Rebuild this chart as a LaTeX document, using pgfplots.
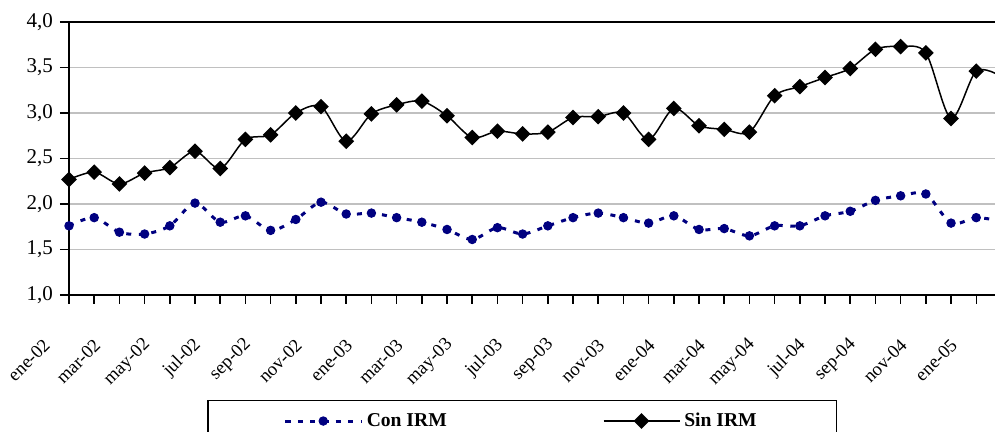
\documentclass[border=0pt]{standalone}
\usepackage{pgfplots}
\pgfplotsset{compat=1.18}
\usepackage{pgfplotstable}
\usepackage{fontspec}
\setmainfont{Liberation Serif}

\definecolor{irmnavy}{RGB}{0,0,128}
\definecolor{gridgray}{RGB}{192,192,192}

% month index (0 = ene-02), Con IRM, Sin IRM
\pgfplotstableread{
idx con  sin
0   1.76 2.27
1   1.85 2.35
2   1.69 2.22
3   1.67 2.34
4   1.76 2.40
5   2.01 2.58
6   1.80 2.39
7   1.87 2.71
8   1.71 2.76
9   1.83 3.00
10  2.02 3.07
11  1.89 2.69
12  1.90 2.99
13  1.85 3.09
14  1.80 3.13
15  1.72 2.97
16  1.61 2.73
17  1.74 2.80
18  1.67 2.77
19  1.76 2.79
20  1.85 2.95
21  1.90 2.96
22  1.85 3.00
23  1.79 2.71
24  1.87 3.05
25  1.72 2.86
26  1.73 2.82
27  1.65 2.79
28  1.76 3.19
29  1.76 3.29
30  1.87 3.39
31  1.92 3.49
32  2.04 3.70
33  2.09 3.73
34  2.11 3.66
35  1.79 2.94
36  1.85 3.46
37  1.81 3.40
}\irm

\begin{document}
\begin{tikzpicture}
\begin{axis}[
  at={(0pt,0pt)}, anchor=south west,
  scale only axis,
  width=463.7pt, height=136.5pt,
  xmin=0, xmax=36.8,
  ymin=1, ymax=4,
  ytick={1,1.5,2,2.5,3,3.5,4},
  xtick={0,2,...,36},
  minor xtick={1,3,...,35},
  xticklabels={ene-02,mar-02,may-02,jul-02,sep-02,nov-02,
    ene-03,mar-03,may-03,jul-03,sep-03,nov-03,
    ene-04,mar-04,may-04,jul-04,sep-04,nov-04,ene-05},
  xtick pos=bottom, ytick pos=left,
  tick align=outside,
  major tick length=4.5pt, minor tick length=4.5pt,
  tick style={black, line width=0.75pt},
  minor tick style={black, line width=0.75pt},
  axis line style={black, line width=1pt},
  ymajorgrids,
  grid style={gridgray, line width=0.75pt},
  yticklabel style={font=\fontsize{10.5}{12}\selectfont,
    /pgf/number format/fixed, /pgf/number format/fixed zerofill,
    /pgf/number format/precision=1, /pgf/number format/use comma,
    /pgf/number format/assume math mode=true},
  xticklabel style={font=\fontsize{9.3}{11}\selectfont, inner sep=0pt,
    xshift=-11pt, yshift=-19pt, rotate=45, anchor=east},
  legend columns=2,
  legend style={at={(0.1488,-0.3846)}, anchor=north west,
    draw=black, line width=0.75pt,
    font=\fontsize{9.8}{12}\selectfont\bfseries,
    inner xsep=38pt, inner ysep=4pt,
    /tikz/every even column/.append style={column sep=76pt}},
  legend image code/.code={
    \draw[mark repeat=2, mark phase=2, #1]
      plot coordinates {(0pt,0pt) (19pt,0pt) (38pt,0pt)};
  },
]
\addplot[irmnavy, line width=1.5pt, dash pattern=on 2.5pt off 3.8pt,
  smooth, mark=*, mark size=2.1pt,
  mark options={solid, fill=irmnavy, line width=0.5pt}]
  table[x=idx, y=con] {\irm};
\addlegendentry{Con IRM}
\addplot[black, line width=0.75pt, smooth, mark=square*, mark size=2.4pt,
  mark options={solid, rotate=45, fill=black}]
  table[x=idx, y=sin] {\irm};
\addlegendentry{Sin IRM}
\end{axis}
\pgfresetboundingbox
\path[use as bounding box] (-34.5pt,-68.5pt) rectangle (463pt,147.5pt);
\end{tikzpicture}
\end{document}
